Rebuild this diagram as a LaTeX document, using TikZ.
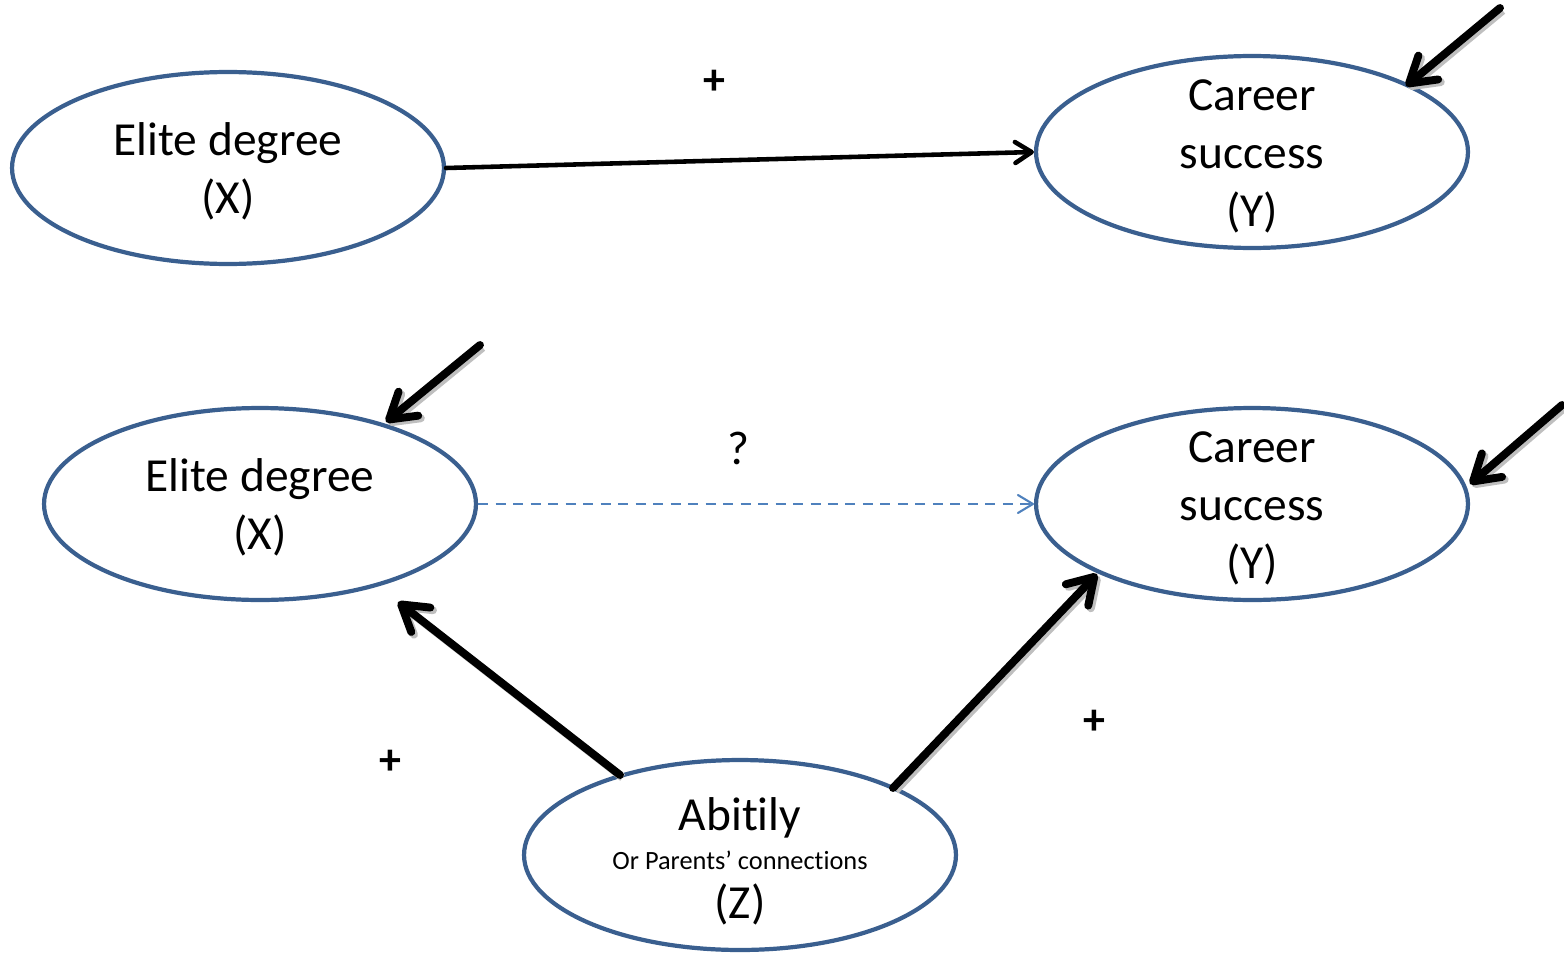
\documentclass[tikz,border=0pt]{standalone}
\usepackage{fontspec}
\setmainfont{Carlito}[Ligatures=NoCommon, RawFeature={-clig;-calt}]
\usetikzlibrary{arrows.meta,shapes.geometric}
\definecolor{ellblue}{HTML}{3A5F8F}
\definecolor{dashblue}{HTML}{4F81BD}
\tikzset{
  var/.style={ellipse, draw=ellblue, line width=2.4pt, minimum width=8.64cm, minimum height=3.84cm, inner sep=0pt},
  txt/.style={inner sep=0pt, align=center, font=\fontsize{27}{33}\selectfont},
  smalltxt/.style={inner sep=0pt, font=\fontsize{15}{18}\selectfont},
  sign/.style={inner sep=0pt, font=\fontsize{25}{29}\selectfont\bfseries},
  bigarrow/.style={line width=4.5pt, line cap=round, line join=round, -{Straight Barb[length=0.5cm, width=0.62cm, line cap=round, line join=round]}, preaction={draw=black!25, line width=4.5pt, transform canvas={xshift=1.5pt, yshift=-1.5pt}, -{Straight Barb[length=0.5cm, width=0.62cm, line cap=round, line join=round]}}},
  midarrow/.style={line width=2.6pt, line cap=round, line join=round, -{Straight Barb[length=0.33cm, width=0.42cm, line cap=round, line join=round]}},
  dasharrow/.style={draw=dashblue, line width=1.2pt, dash pattern=on 0.2cm off 0.15cm, -{Straight Barb[length=0.3cm, width=0.36cm, line cap=round, line join=round]}}
}
\begin{document}
\begin{tikzpicture}[x={(0.02cm,0)}, y={(0,-0.02cm)}]
\useasboundingbox (0,0) rectangle (1564,953);
% top row
\node[var] (X1) at (228,168) {};
\node[txt] (X1t) at (228,171) {Elite degree\\(X)};
\node[var] (Y1) at (1252,152) {};
\node[txt] (Y1t) at (1252,156) {Career\\success\\(Y)};
% bottom row
\node[var] (X2) at (260,504) {};
\node[txt] (X2t) at (260,507) {Elite degree\\(X)};
\node[var] (Y2) at (1252,504) {};
\node[txt] (Y2t) at (1252,508) {Career\\success\\(Y)};
\node[var, minimum height=3.8cm] (Z) at (740,855) {};
\node[txt] (Zt1) at (740,818) {Abit\kern0pt ily};
\node[smalltxt] (Zt2) at (740,860) {Or Parents’ connect\kern0pt ions};
\node[txt] (Zt3) at (740,904) {(Z)};
% free ends
\coordinate (e1) at (1500,8);
\coordinate (e1t) at (1406,86);
\coordinate (e2) at (480,345);
\coordinate (e2t) at (386,422);
\coordinate (e3) at (1562,405);
\coordinate (e3t) at (1470,484);
% connectors
\draw[midarrow] (X1.east) -- (Y1.west);
\draw[bigarrow] (e1) -- (e1t);
\draw[bigarrow] (e2) -- (e2t);
\draw[bigarrow] (e3) -- (e3t);
\draw[dasharrow] (X2.east) -- (Y2.west);
\coordinate (zx) at (620,775);
\coordinate (zxt) at (398,602);
\coordinate (zy) at (893,788);
\coordinate (zyt) at (1097,574);
\draw[bigarrow] (zx) -- (zxt);
\draw[bigarrow] (zy) -- (zyt);
% labels
\node[sign] (p1) at (714,82) {+};
\node[txt] (q) at (738,448) {?};
\node[sign] (p2) at (390,762) {+};
\node[sign] (p3) at (1094,722) {+};
\end{tikzpicture}
\end{document}
